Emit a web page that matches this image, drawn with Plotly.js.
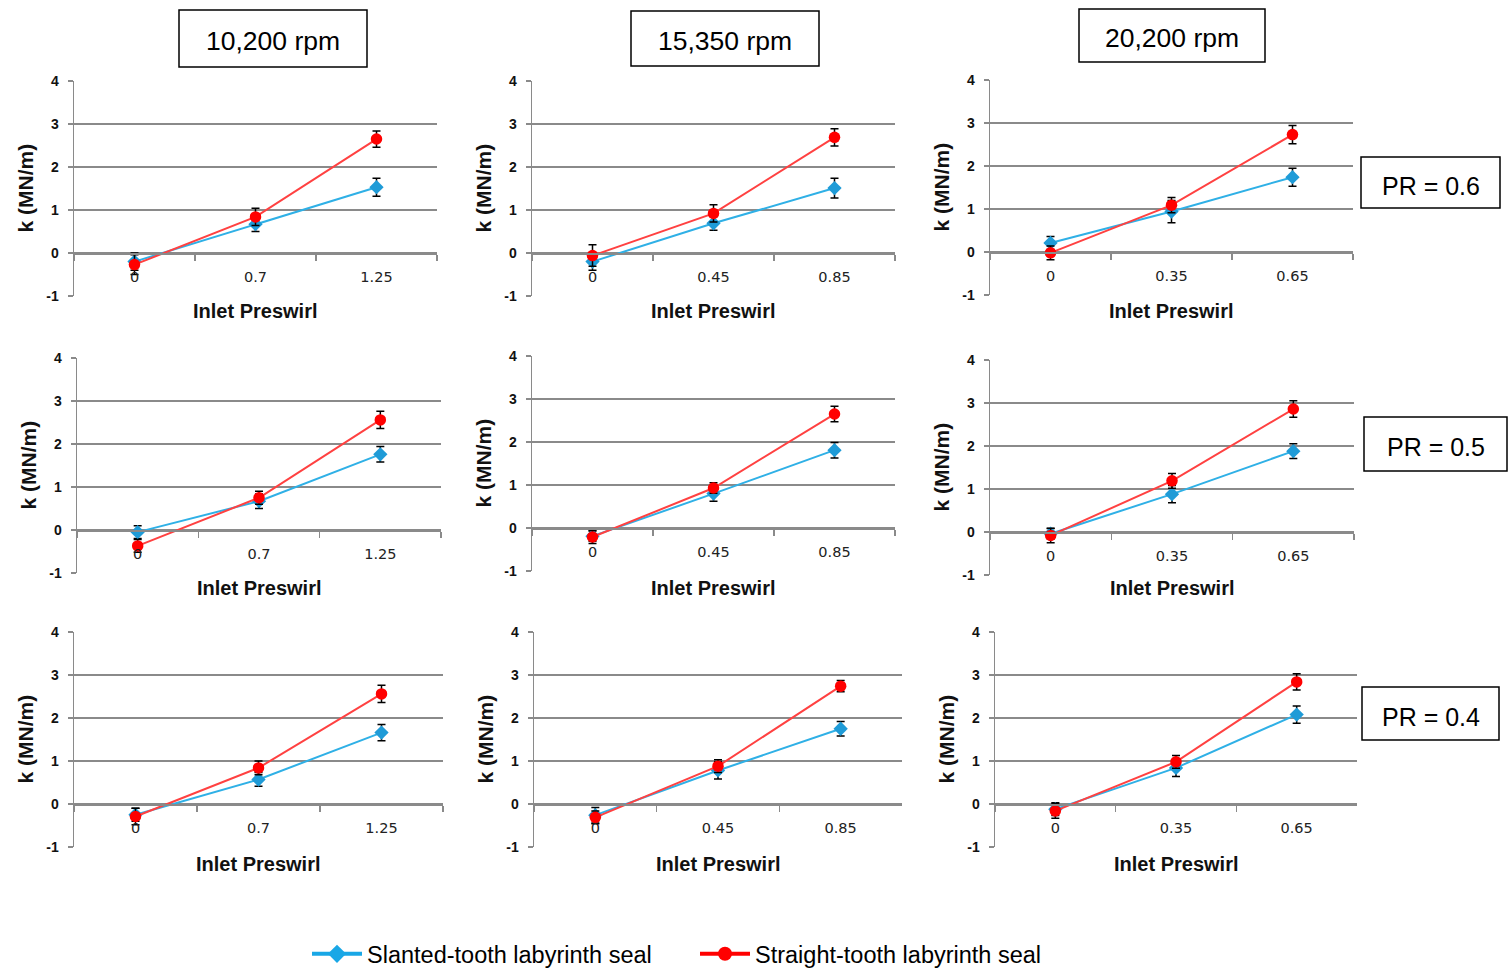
<!DOCTYPE html>
<html>
<head>
<meta charset="utf-8">
<script src="https://cdn.plot.ly/plotly-3.0.1.min.js"></script>
<style>html,body{margin:0;padding:0;background:#fff;}#chart{width:1508px;height:969px;}</style>
</head>
<body>
<div id="chart"></div>
<script>
// ---- data ----
const speedLabels = ['10,200 rpm', '15,350 rpm', '20,200 rpm'];
const pressureRatioLabels = ['PR = 0.6', 'PR = 0.5', 'PR = 0.4'];
const preswirl10200 = ['0', '0.7', '1.25'];
const preswirl15350 = ['0', '0.45', '0.85'];
const preswirl20200 = ['0', '0.35', '0.65'];
const seriesNames = ['Slanted-tooth labyrinth seal', 'Straight-tooth labyrinth seal'];
const xTitle = 'Inlet Preswirl';
const yTitle = 'k (MN/m)';
const yTicks = [-1, 0, 1, 2, 3, 4];

// PR = 0.6
const slanted_PR06_10200 = [-0.20, 0.67, 1.53];
const slantedErr_PR06_10200 = [0.20, 0.17, 0.21];
const straight_PR06_10200 = [-0.27, 0.84, 2.65];
const straightErr_PR06_10200 = [0.23, 0.20, 0.19];
const slanted_PR06_15350 = [-0.20, 0.69, 1.51];
const slantedErr_PR06_15350 = [0.20, 0.16, 0.23];
const straight_PR06_15350 = [-0.06, 0.92, 2.69];
const straightErr_PR06_15350 = [0.25, 0.20, 0.20];
const slanted_PR06_20200 = [0.21, 0.94, 1.74];
const slantedErr_PR06_20200 = [0.15, 0.26, 0.21];
const straight_PR06_20200 = [-0.02, 1.09, 2.73];
const straightErr_PR06_20200 = [0.16, 0.18, 0.21];
// PR = 0.5
const slanted_PR05_10200 = [-0.05, 0.67, 1.76];
const slantedErr_PR05_10200 = [0.15, 0.17, 0.18];
const straight_PR05_10200 = [-0.37, 0.75, 2.56];
const straightErr_PR05_10200 = [0.15, 0.15, 0.20];
const slanted_PR05_15350 = [-0.19, 0.80, 1.81];
const slantedErr_PR05_15350 = [0.12, 0.18, 0.18];
const straight_PR05_15350 = [-0.21, 0.93, 2.65];
const straightErr_PR05_15350 = [0.15, 0.12, 0.18];
const slanted_PR05_20200 = [-0.04, 0.88, 1.88];
const slantedErr_PR05_20200 = [0.12, 0.20, 0.17];
const straight_PR05_20200 = [-0.08, 1.19, 2.86];
const straightErr_PR05_20200 = [0.17, 0.17, 0.19];
// PR = 0.4
const slanted_PR04_10200 = [-0.25, 0.57, 1.66];
const slantedErr_PR04_10200 = [0.15, 0.16, 0.19];
const straight_PR04_10200 = [-0.29, 0.84, 2.56];
const straightErr_PR04_10200 = [0.19, 0.16, 0.20];
const slanted_PR04_15350 = [-0.26, 0.78, 1.75];
const slantedErr_PR04_15350 = [0.18, 0.20, 0.17];
const straight_PR04_15350 = [-0.31, 0.88, 2.74];
const straightErr_PR04_15350 = [0.15, 0.15, 0.13];
const slanted_PR04_20200 = [-0.12, 0.84, 2.08];
const slantedErr_PR04_20200 = [0.15, 0.20, 0.20];
const straight_PR04_20200 = [-0.16, 0.98, 2.84];
const straightErr_PR04_20200 = [0.17, 0.15, 0.19];

// ---- panel assembly (row = PR, col = speed) ----
const panels = [
  [preswirl10200, slanted_PR06_10200, slantedErr_PR06_10200, straight_PR06_10200, straightErr_PR06_10200],
  [preswirl15350, slanted_PR06_15350, slantedErr_PR06_15350, straight_PR06_15350, straightErr_PR06_15350],
  [preswirl20200, slanted_PR06_20200, slantedErr_PR06_20200, straight_PR06_20200, straightErr_PR06_20200],
  [preswirl10200, slanted_PR05_10200, slantedErr_PR05_10200, straight_PR05_10200, straightErr_PR05_10200],
  [preswirl15350, slanted_PR05_15350, slantedErr_PR05_15350, straight_PR05_15350, straightErr_PR05_15350],
  [preswirl20200, slanted_PR05_20200, slantedErr_PR05_20200, straight_PR05_20200, straightErr_PR05_20200],
  [preswirl10200, slanted_PR04_10200, slantedErr_PR04_10200, straight_PR04_10200, straightErr_PR04_10200],
  [preswirl15350, slanted_PR04_15350, slantedErr_PR04_15350, straight_PR04_15350, straightErr_PR04_15350],
  [preswirl20200, slanted_PR04_20200, slantedErr_PR04_20200, straight_PR04_20200, straightErr_PR04_20200]
];

// ---- layout geometry (pixels: left, right, top, bottom of plot areas) ----
const W = 1508, H = 969;
const boxes = [
  [74, 437, 81, 296], [532, 895, 81, 296], [990, 1353, 80, 295],
  [77, 441, 358, 573], [532, 895, 356, 571], [990, 1354, 360, 575],
  [74, 443, 632, 847], [534, 902, 632, 847], [995, 1357, 632, 847]
];
const px = p => p / W;
const py = p => 1 - p / H;

const GRAY = '#8a8a8a';
const BLUE_LINE = '#2fb0e6';
const BLUE_MK = '#1f9bd7';
const RED_LINE = '#ff4141';
const RED_MK = '#ff0000';
const FONT = 'Liberation Sans, Arial, sans-serif';

const traces = [];
const layout = {
  width: W, height: H,
  margin: {l: 0, r: 0, t: 0, b: 0, autoexpand: false},
  paper_bgcolor: '#fff', plot_bgcolor: 'rgba(0,0,0,0)',
  showlegend: true,
  shapes: [], annotations: [],
  font: {family: FONT, color: '#000'}
};

panels.forEach((p, i) => {
  const n = i + 1;
  const [L, R, T, B] = boxes[i];
  const xa = 'xaxis' + (n === 1 ? '' : n), ya = 'yaxis' + (n === 1 ? '' : n);
  const xr = 'x' + (n === 1 ? '' : n), yr = 'y' + (n === 1 ? '' : n);
  const [cats, sl, slE, st, stE] = p;
  traces.push({
    type: 'scatter', mode: 'lines+markers', x: cats, y: sl, xaxis: xr, yaxis: yr,
    name: seriesNames[0], showlegend: false,
    line: {color: BLUE_LINE, width: 2},
    marker: {symbol: 'diamond', size: 11, color: BLUE_MK},
    error_y: {type: 'data', array: slE, visible: true, color: '#000', thickness: 1.5, width: 4}
  });
  traces.push({
    type: 'scatter', mode: 'lines+markers', x: cats, y: st, xaxis: xr, yaxis: yr,
    name: seriesNames[1], showlegend: false,
    line: {color: RED_LINE, width: 2},
    marker: {symbol: 'circle', size: 11.5, color: RED_MK},
    error_y: {type: 'data', array: stE, visible: true, color: '#000', thickness: 1.5, width: 4}
  });
  const zeroPix = T + 0.8 * (B - T);
  layout[xa] = {
    type: 'category', categoryorder: 'array', categoryarray: cats,
    range: [-0.5, 2.5], domain: [px(L), px(R)],
    anchor: 'free', position: py(zeroPix),
    showline: true, linecolor: GRAY, linewidth: 1.5,
    ticks: 'outside', tickson: 'boundaries', ticklen: 6, tickcolor: GRAY, tickwidth: 1.5,
    showgrid: false, zeroline: false, fixedrange: true, automargin: false,
    ticklabelstandoff: 10,
    tickfont: {family: 'DejaVu Sans, sans-serif', size: 14.5, color: '#222'}
  };
  layout[ya] = {
    range: [-1, 4], domain: [py(B), py(T)], anchor: xr,
    tickmode: 'array', tickvals: yTicks, ticktext: yTicks.map(String),
    showline: true, linecolor: GRAY, linewidth: 1.5,
    ticks: 'outside', ticklen: 5, tickcolor: GRAY, tickwidth: 1.5,
    showgrid: true, gridcolor: GRAY, gridwidth: 1.5, zeroline: false, fixedrange: true, automargin: false,
    ticklabelstandoff: 6,
    tickfont: {family: FONT, size: 14, color: '#111', weight: 'bold'}
  };
  // axis titles
  const titleY = [311, 588, 864][Math.floor(i / 3)];
  layout.annotations.push({
    xref: 'paper', yref: 'paper', x: px((L + R) / 2), y: py(titleY),
    xanchor: 'center', yanchor: 'middle', showarrow: false,
    text: '<b>' + xTitle + '</b>', font: {family: FONT, size: 20, color: '#111'}
  });
  layout.annotations.push({
    xref: 'paper', yref: 'paper', x: px(L - 49), y: py((T + B) / 2),
    xanchor: 'center', yanchor: 'middle', showarrow: false, textangle: -90,
    text: '<b>' + yTitle + '</b>', font: {family: FONT, size: 21, color: '#111'}
  });
  // bottom row has no gridline at -1
  if (i >= 6) {
    layout.shapes.push({
      type: 'line', xref: xr + ' domain', yref: yr,
      x0: 0.004, x1: 1.01, y0: -1, y1: -1,
      line: {color: '#fff', width: 3}, layer: 'above'
    });
  }
});

// speed header boxes
const speedBoxes = [[179, 367, 10, 67], [631, 819, 11, 66], [1079, 1265, 9, 62]];
speedBoxes.forEach((b, j) => {
  layout.shapes.push({type: 'rect', xref: 'paper', yref: 'paper',
    x0: px(b[0]), x1: px(b[1]), y0: py(b[3]), y1: py(b[2]),
    line: {color: '#000', width: 1.5}, fillcolor: 'rgba(0,0,0,0)'});
  layout.annotations.push({xref: 'paper', yref: 'paper', x: px((b[0] + b[1]) / 2), y: py((b[2] + b[3]) / 2 + 2),
    xanchor: 'center', yanchor: 'middle', showarrow: false, text: speedLabels[j],
    font: {family: FONT, size: 26.5, color: '#000'}});
});
// pressure ratio boxes
const prBoxes = [[1361, 1500, 157, 208], [1364, 1507, 417, 471], [1362, 1499, 687, 740]];
prBoxes.forEach((b, j) => {
  layout.shapes.push({type: 'rect', xref: 'paper', yref: 'paper',
    x0: px(b[0]), x1: px(b[1]), y0: py(b[3]), y1: py(b[2]),
    line: {color: '#000', width: 1.5}, fillcolor: 'rgba(0,0,0,0)'});
  layout.annotations.push({xref: 'paper', yref: 'paper', x: px((b[0] + b[1]) / 2), y: py((b[2] + b[3]) / 2 + 3),
    xanchor: 'center', yanchor: 'middle', showarrow: false, text: pressureRatioLabels[j],
    font: {family: FONT, size: 25, color: '#000'}});
});

// legend entries (one legend per entry so each can be placed exactly)
traces.push({type: 'scatter', mode: 'lines+markers', x: [null], y: [null], name: seriesNames[0],
  legend: 'legend', showlegend: true,
  line: {color: '#19a7e6', width: 4}, marker: {symbol: 'diamond', size: 14, color: '#19a7e6'}});
traces.push({type: 'scatter', mode: 'lines+markers', x: [null], y: [null], name: seriesNames[1],
  legend: 'legend2', showlegend: true,
  line: {color: '#ff0000', width: 4}, marker: {symbol: 'circle', size: 14, color: '#ff0000'}});
const legendBase = {orientation: 'h', yanchor: 'middle', xanchor: 'left', y: py(954),
  bgcolor: 'rgba(0,0,0,0)', borderwidth: 0, itemwidth: 50,
  font: {family: FONT, size: 23.5, color: '#000'}};
layout.legend = Object.assign({}, legendBase, {x: px(307)});
layout.legend2 = Object.assign({}, legendBase, {x: px(695)});

Plotly.newPlot('chart', traces, layout, {staticPlot: true, displayModeBar: false});
</script>
</body>
</html>
